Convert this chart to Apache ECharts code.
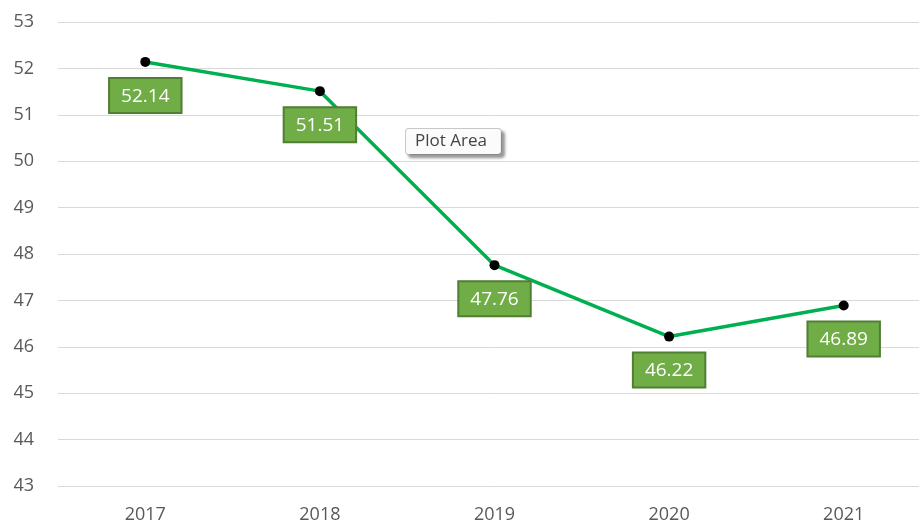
<!DOCTYPE html>
<html>
<head>
<meta charset="utf-8">
<style>
  html, body { margin: 0; padding: 0; background: #fff; overflow: hidden; }
  #chart { width: 931px; height: 524px; }
</style>
<script src="https://cdn.jsdelivr.net/npm/echarts@6/dist/echarts.min.js"></script>
</head>
<body>
<div id="chart"></div>
<script>
// data
var years = ["2017", "2018", "2019", "2020", "2021"];
var values = [52.14, 51.51, 47.76, 46.22, 46.89];
var yMin = 43, yMax = 53, yStep = 1;

// the plot area runs a little past the right edge of the window
var chart = echarts.init(document.getElementById("chart"));
var option = {
  backgroundColor: "#fff",
  animation: false,
  grid: { left: 58, right: 0, top: 22, bottom: 38 },
  xAxis: {
    type: "category",
    data: years,
    boundaryGap: true,
    axisLine: { show: false },
    axisTick: { show: false },
    axisLabel: {
      color: "#595959",
      fontSize: 18,
      fontFamily: "Open Sans",
      margin: 20
    }
  },
  yAxis: {
    type: "value",
    min: yMin,
    max: yMax,
    interval: yStep,
    axisLine: { show: false },
    axisTick: { show: false },
    axisLabel: {
      color: "#595959",
      fontSize: 18,
      fontFamily: "Open Sans",
      margin: 24
    },
    splitLine: { lineStyle: { color: "#d9d9d9", width: 1 } }
  },
  series: [
    {
      type: "line",
      data: values,
      symbol: "circle",
      symbolSize: 10,
      itemStyle: { color: "#000" },
      lineStyle: { color: "#00b050", width: 3.5 },
      label: {
        show: true,
        position: "bottom",
        distance: 12,
        color: "#fff",
        fontSize: 19,
        fontFamily: "Open Sans",
        backgroundColor: "#70ad47",
        borderColor: "#507e32",
        borderWidth: 2,
        padding: [8, 11, 6, 11],
        formatter: function (p) { return p.value.toFixed(2); }
      }
    }
  ],
  graphic: [
    {
      type: "text",
      left: 405,
      top: 128,
      style: {
        text: "Plot Area",
        fill: "#444",
        font: "17px 'Open Sans'",
        backgroundColor: "#fbfbfb",
        borderColor: "#c8c8c8",
        borderWidth: 1,
        borderRadius: 3,
        padding: [4, 14, 4, 9],
        shadowColor: "rgba(0,0,0,0.35)",
        shadowOffsetX: 3,
        shadowOffsetY: 3,
        shadowBlur: 3
      }
    }
  ]
};
chart.setOption(option);
</script>
</body>
</html>
